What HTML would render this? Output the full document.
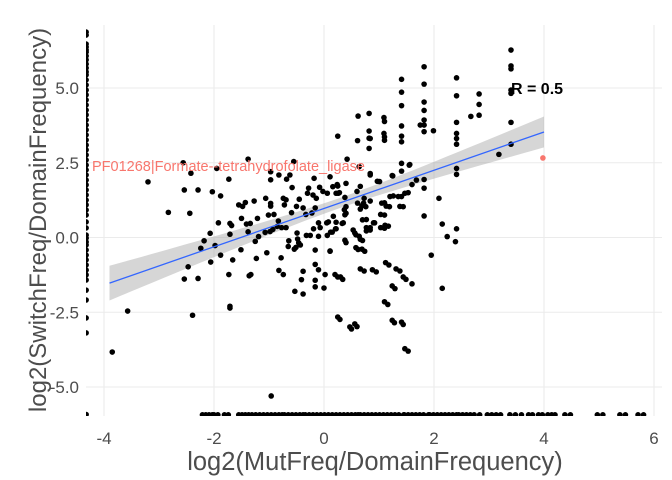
<!DOCTYPE html>
<html><head><meta charset="utf-8">
<style>
html,body{margin:0;padding:0;background:#fff;}
svg{display:block;font-family:"Liberation Sans",sans-serif;}
</style></head>
<body>
<svg id="chart" width="672" height="480" viewBox="0 0 672 480">
<defs><clipPath id="panelClip"><rect x="86" y="25" width="576" height="391"/></clipPath></defs>
<g id="grid"></g>
<g id="band" clip-path="url(#panelClip)"></g>
<g id="pts" clip-path="url(#panelClip)"></g>
<g id="fit"></g>
<g id="axes"></g>
<text x="92" y="171" font-size="14.5" fill="#F8766D">PF01268|Formate--tetrahydrofolate_ligase</text>
<text x="511" y="94" font-size="16" font-weight="bold" fill="#000">R = 0.5</text>
<text x="375" y="470" font-size="25.5" fill="#4d4d4d" text-anchor="middle">log2(MutFreq/DomainFrequency)</text>
<text transform="translate(46,220) rotate(-90)" font-size="24" fill="#4d4d4d" text-anchor="middle">log2(SwitchFreq/DomainFrequency)</text>
</svg>
<script>
const xTicks=[-4,-2,0,2,4,6];
const xTickLabels=["-4","-2","0","2","4","6"];
const yTicks=[-5,-2.5,0,2.5,5];
const yTickLabels=["-5.0","-2.5","0.0","2.5","5.0"];
const fitIntercept=0.97;
const fitSlope=0.64;
const fitRange=[-3.9,4.0];
const bandCenterX=0.3, bandA=0.029, bandB=0.0174;
const highlightPoint=[3.98,2.66];
const points=[[1.41,5.29],[1.41,4.86],[1.41,4.41],[1.41,3.73],[1.41,3.39],[1.41,3.2],[0.62,4.06],[0.82,4.15],[0.82,3.56],[0.82,3.32],[0.82,2.98],[1.09,4.01],[1.09,3.48],[0.25,3.39],[0.61,3.24],[0.42,2.62],[-1.38,2.62],[-2.56,2.5],[-2.42,2.15],[-1.95,2.31],[-1.73,1.95],[-0.97,2.2],[-0.82,2.09],[-0.68,1.95],[-0.62,2.09],[-0.55,2.54],[-0.97,1.93],[-0.58,1.67],[-0.18,1.98],[0.11,2.03],[0.64,2.37],[0.84,2.09],[1.01,1.87],[1.25,2.06],[1.41,2.48],[1.55,2.42],[-2.83,0.84],[-2.54,1.59],[-2.29,1.59],[-2.44,0.81],[-2.03,1.53],[-1.88,1.39],[-1.92,0.49],[-2.07,0.14],[-2.18,-0.11],[-2.24,-0.36],[-1.98,-0.27],[-1.88,-0.59],[-1.71,0.47],[-1.68,0.4],[-1.71,0.11],[-1.55,1.09],[-1.48,1.04],[-1.43,1.17],[-1.5,0.64],[-1.41,0.45],[-1.34,0.47],[-1.38,0.19],[-1.27,1.22],[-1.21,0.64],[-1.06,1.31],[-0.97,1.14],[-0.97,1.05],[-1.01,0.75],[-0.91,0.77],[-1.07,0.17],[-0.98,0.2],[-1.19,0.03],[-1.25,-0.13],[-0.93,0.27],[-0.83,0.55],[-0.85,0.37],[-0.77,0.33],[-0.69,0.33],[-0.74,1.31],[-0.69,1.26],[-0.72,1.09],[-0.59,0.83],[-0.5,1.04],[-0.45,1.28],[-0.38,0.99],[-0.33,0.77],[-0.22,0.82],[-0.16,0.99],[-0.2,1.42],[-0.28,1.65],[-0.3,1.48],[-0.14,1.31],[-0.08,1.68],[-0.02,1.54],[0.06,1.48],[0.16,1.7],[0.25,1.72],[0.26,1.48],[0.38,1.34],[0.37,0.93],[0.38,0.76],[0.17,0.71],[0.05,0.49],[0.08,0.52],[-0.1,0.49],[-0.19,0.29],[-0.07,0.33],[-0.25,0.07],[-0.32,0.07],[-0.1,0.04],[0.06,0.07],[0.12,0.18],[0.21,0.29],[0.33,0.47],[0.53,0.25],[0.58,0.09],[0.66,-0.06],[0.38,-0.09],[0.58,-0.34],[0.69,-0.39],[0.77,0.33],[0.77,0.22],[0.7,0.59],[0.69,1.06],[0.66,0.95],[0.9,0.49],[1.03,0.33],[1.11,0.41],[1.03,0.77],[1.05,1.15],[1.13,1.05],[1.2,1.37],[1.35,1.37],[1.38,1.04],[1.47,1.48],[-0.49,0.15],[-0.48,-0.05],[-0.54,-0.39],[-0.51,-0.33],[-0.64,-0.11],[-0.65,-0.3],[-0.46,-0.18],[-0.43,-0.25],[-0.16,-0.42],[0.11,-0.45],[-0.78,-0.68],[-1.04,-0.51],[-1.23,-0.7],[-1.51,-0.41],[-1.66,-0.75],[-2.06,-0.82],[-2.47,-0.98],[-2.54,-1.39],[-2.29,-1.37],[-1.73,-1.24],[-1.36,-1.28],[-1.33,-1.24],[-0.82,-1.1],[-0.74,-1.24],[-0.38,-1.13],[-0.41,-1.41],[-0.16,-0.9],[-0.1,-1.08],[0.02,-1.24],[-0.16,-1.43],[-0.16,-1.65],[0.0,-1.69],[-0.53,-1.8],[-0.38,-1.89],[0.2,-1.24],[0.3,-1.32],[0.66,-1.05],[0.88,-1.08],[1.12,-0.84],[1.31,-1.05],[1.44,-1.32],[1.24,-1.62],[1.1,-2.15],[-1.71,-2.3],[-1.71,-2.36],[-2.39,-2.6],[0.25,-2.66],[0.47,-2.99],[0.56,-2.89],[1.24,-2.77],[1.41,-2.83],[1.47,-3.72],[-0.96,-5.3],[3.4,6.27],[3.4,5.74],[3.4,5.64],[3.4,4.93],[3.4,4.82],[3.4,3.85],[3.4,3.12],[3.18,2.78],[2.82,4.8],[2.82,4.45],[2.82,4.09],[2.67,4.05],[2.41,5.34],[2.41,4.74],[2.41,3.85],[2.41,3.48],[2.41,3.31],[2.41,3.12],[2.41,2.31],[2.41,2.11],[2.41,0.29],[2.39,-0.14],[2.24,0.03],[2.15,0.45],[2.09,1.31],[1.95,-0.59],[2.15,-1.7],[1.82,5.71],[1.82,5.13],[1.82,4.53],[1.82,4.25],[1.82,3.93],[1.82,3.76],[1.82,3.54],[1.75,3.76],[1.99,3.57],[1.82,1.94],[1.82,1.65],[1.82,0.72],[1.68,1.92],[1.6,1.77],[1.53,1.5],[1.56,2.44],[1.41,2.22],[1.41,1.37],[1.44,1.03],[1.24,2.07],[1.26,1.39],[1.19,1.03],[1.1,1.16],[1.1,0.75],[1.17,0.38],[1.1,0.31],[1.1,3.88],[1.1,3.36],[1.1,3.25],[0.84,3.31],[0.84,2.14],[0.97,1.88],[0.92,0.49],[0.84,0.33],[0.84,0.25],[0.77,0.6],[0.73,1.31],[0.76,1.03],[0.84,1.22],[0.66,1.71],[0.6,1.54],[0.61,1.15],[0.72,1.15],[0.4,1.81],[0.4,1.03],[0.4,0.81],[0.35,0.49],[0.22,0.51],[0.22,0.29],[0.15,0.18],[0.11,-0.46],[0.4,-0.17],[0.56,0.15],[0.64,0.04],[0.7,-0.1],[0.62,-0.4],[0.74,-0.46],[0.73,-1.12],[0.95,-1.15],[1.18,-0.92],[1.38,-1.12],[1.49,-1.4],[1.6,-1.55],[1.29,-1.71],[1.16,-2.24],[0.25,-1.32],[0.34,-1.4],[0.29,-2.74],[0.5,-3.06],[0.6,-2.98],[1.28,-2.85],[1.44,-2.91],[1.53,-3.8],[0.24,1.77],[0.28,1.5],[0.22,1.48],[-3.2,1.86],[-3.57,-2.46],[-3.85,-3.83]];
const leftColumnX=-4.325;
const leftColumnY=[6.87,6.77,6.47,6.37,6.27,6.2,6.07,5.94,5.8,5.67,5.54,5.44,5.27,5.1,4.93,4.77,4.6,4.43,4.26,4.1,3.93,3.76,3.6,3.43,3.26,3.09,2.93,2.76,2.59,2.42,2.26,2.09,1.92,1.76,1.59,1.42,1.25,1.09,0.92,0.75,0.52,0.32,0.08,-0.02,-0.15,-0.25,-0.42,-0.59,-0.75,-0.92,-1.09,-1.25,-1.42,-1.76,-2.09,-2.69,-3.19,-5.92];
const bottomRowY=-5.93;
const bottomRowX=[-2.21,-2.15,-2.09,-2.03,-2.0,-1.93,-1.81,-1.74,-1.55,-1.49,-1.43,-1.37,-1.31,-1.24,-1.17,-1.1,-1.03,-0.96,-0.89,-0.82,-0.76,-0.72,-0.65,-0.58,-0.51,-0.44,-0.38,-0.34,-0.27,-0.2,-0.13,-0.06,0.01,0.08,0.15,0.22,0.29,0.36,0.43,0.5,0.57,0.62,0.66,0.73,0.8,0.87,0.94,1.01,1.08,1.15,1.22,1.29,1.36,1.45,1.46,1.53,1.6,1.67,1.74,1.81,1.9,1.92,1.99,2.06,2.13,2.2,2.27,2.34,2.41,2.45,2.52,2.59,2.66,2.73,2.83,2.97,3.05,3.13,3.21,3.38,3.48,3.59,3.72,3.79,3.9,3.97,4.07,4.14,4.2,4.38,4.48,4.97,5.07,5.38,5.48,5.71,5.81];

const NS="http://www.w3.org/2000/svg";
const X0=86,X1=662,Y0=25,Y1=416;
function sx(v){return 324+v*55;}
function sy(v){return 237.5-v*29.9;}
function mk(tag,attrs,parent){const e=document.createElementNS(NS,tag);for(const k in attrs)e.setAttribute(k,attrs[k]);parent.appendChild(e);return e;}
const grid=document.getElementById('grid'),axes=document.getElementById('axes');
xTicks.forEach((t,i)=>{
  const l=mk('line',{x1:sx(t),x2:sx(t),y1:Y0,y2:Y1,stroke:'#ebebeb','stroke-width':1.1},grid);
  
  
  const tx=mk('text',{x:sx(t),y:444,'font-size':17,fill:'#4d4d4d','text-anchor':'middle'},axes);
  tx.textContent=xTickLabels[i];
  
  
});
yTicks.forEach((t,i)=>{
  const l=mk('line',{x1:X0,x2:X1,y1:sy(t),y2:sy(t),stroke:'#ebebeb','stroke-width':1.1},grid);
  
  
  const tx=mk('text',{x:79,y:sy(t)+6,'font-size':17,fill:'#4d4d4d','text-anchor':'end'},axes);
  tx.textContent=yTickLabels[i];
  
  
});
const band=document.getElementById('band');
let up=[],lo=[];
for(let k=0;k<=40;k++){
  const x=fitRange[0]+(fitRange[1]-fitRange[0])*k/40;
  const c=fitIntercept+fitSlope*x;
  const h=Math.sqrt(bandA+bandB*(x-bandCenterX)*(x-bandCenterX));
  up.push(sx(x).toFixed(1)+','+sy(c+h).toFixed(1));
  lo.unshift(sx(x).toFixed(1)+','+sy(c-h).toFixed(1));
}
const bp=mk('polygon',{points:up.concat(lo).join(' '),fill:'#999','fill-opacity':0.4},band);


const pg=document.getElementById('pts');
points.forEach(p=>{
  const c=mk('circle',{cx:sx(p[0]),cy:sy(p[1]),r:2.8,fill:'#000'},pg);
  
  
});
leftColumnY.forEach(y=>{
  const c=mk('circle',{cx:sx(leftColumnX),cy:sy(y),r:2.8,fill:'#000'},pg);
  
  
});
bottomRowX.forEach(x=>{
  const c=mk('circle',{cx:sx(x),cy:sy(bottomRowY),r:2.8,fill:'#000'},pg);
  
  
});
const hp=mk('circle',{cx:sx(highlightPoint[0]),cy:sy(highlightPoint[1]),r:2.8,fill:'#F8766D'},pg);


const fl=mk('line',{x1:sx(fitRange[0]),y1:sy(fitIntercept+fitSlope*fitRange[0]),x2:sx(fitRange[1]),y2:sy(fitIntercept+fitSlope*fitRange[1]),stroke:'#3366FF','stroke-width':1.3},document.getElementById('fit'));


</script>
</body></html>
